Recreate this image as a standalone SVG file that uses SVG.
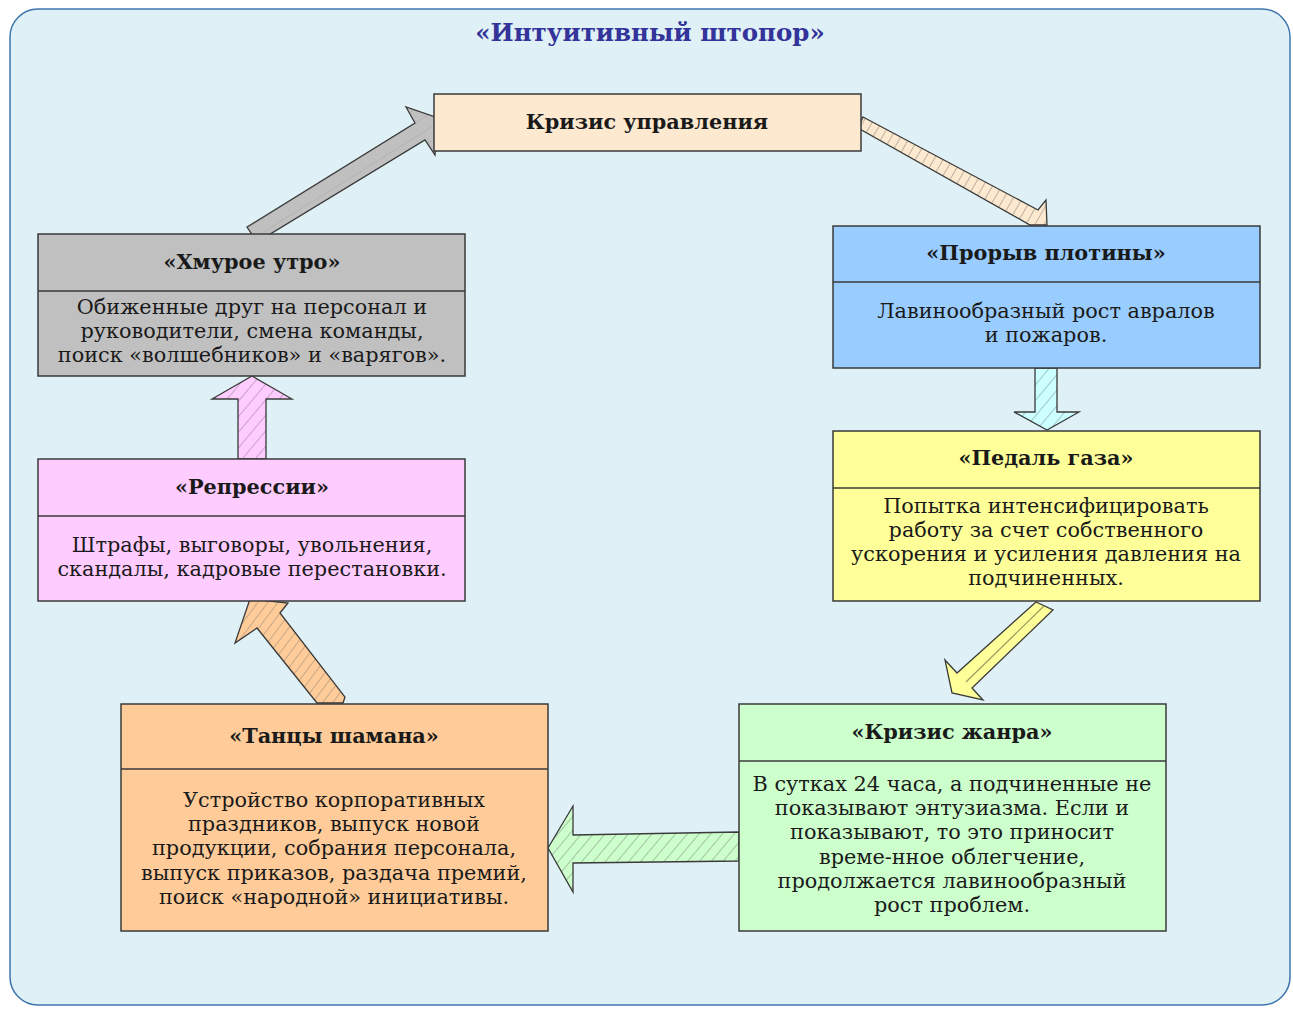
<svg xmlns="http://www.w3.org/2000/svg" width="1293" height="1011" viewBox="0 0 1293 1011">
<defs>
<style>
.box{stroke:#3a3a3a;stroke-width:1.5}
.sep{stroke:#3a3a3a;stroke-width:1.5}
.h{font-family:"DejaVu Serif","Liberation Serif",serif;font-weight:bold;font-size:20.8px;fill:#1a1a1a;text-anchor:middle}
.b{font-family:"DejaVu Serif","Liberation Serif",serif;font-size:20.8px;fill:#1a1a1a;text-anchor:middle}
.hatch{stroke:#3a3a3a;stroke-width:1.3;stroke-linejoin:miter}
</style>
<pattern id="hGreen" width="9" height="9" patternUnits="userSpaceOnUse" patternTransform="rotate(40)"><rect width="9" height="9" fill="#ccffcc"/><line x1="0" y1="0" x2="0" y2="9" stroke="#8a9a8a" stroke-width="1.2"/></pattern>
<pattern id="hCyan" width="10" height="10" patternUnits="userSpaceOnUse" patternTransform="rotate(40)"><rect width="10" height="10" fill="#ccffff"/><line x1="0" y1="0" x2="0" y2="10" stroke="#8aa0a0" stroke-width="1.2"/></pattern>
<pattern id="hPink" width="10" height="10" patternUnits="userSpaceOnUse" patternTransform="rotate(40)"><rect width="10" height="10" fill="#ffccff"/><line x1="0" y1="0" x2="0" y2="10" stroke="#a08aa0" stroke-width="1.2"/></pattern>
<pattern id="hOrange" width="8" height="8" patternUnits="userSpaceOnUse" patternTransform="rotate(37)"><rect width="8" height="8" fill="#ffcc99"/><line x1="0" y1="0" x2="0" y2="8" stroke="#a0907a" stroke-width="1.2"/></pattern>
<pattern id="hPeach" width="8" height="8" patternUnits="userSpaceOnUse" patternTransform="rotate(30)"><rect width="8" height="8" fill="#fde9cf"/><line x1="0" y1="0" x2="0" y2="8" stroke="#a09a90" stroke-width="1.4"/></pattern>
<pattern id="hGray" width="12" height="12" patternUnits="userSpaceOnUse" patternTransform="rotate(58)"><rect width="12" height="12" fill="#c0c0c0"/><line x1="0" y1="0" x2="0" y2="12" stroke="#a8a8a8" stroke-width="1"/></pattern>
</defs>

<rect x="10" y="9" width="1280" height="996" rx="28" ry="28" fill="#dff1f6" stroke="#3f74ad" stroke-width="1.5"/>
<text x="650" y="41" font-family="DejaVu Serif,Liberation Serif,serif" font-weight="bold" font-size="24.5" fill="#33339a" text-anchor="middle">«Интуитивный штопор»</text>

<g id="connectors">
<polygon class="hatch" fill="url(#hGray)" points="247,227 415,123 406,107 438,118 435,155 425,140 257,242"/>
<polygon class="hatch" fill="url(#hPeach)" points="863,117 1038,210 1046,200 1047,225 1030,225 858,128"/>
<polygon class="hatch" fill="url(#hCyan)" points="1035,368 1057,368 1057,412 1079,412 1047,430 1014,412 1035,412"/>
<polygon class="hatch" fill="#ffff99" points="1036,602 1053,610 972,688 983,700 952,693 945,660 957,673"/>
<line x1="1044" y1="606" x2="966" y2="682" stroke="#9a9a60" stroke-width="1.2"/>
<polygon class="hatch" fill="url(#hGreen)" points="739,832 573,835 573,806 548,848 573,892 573,863 739,861"/>
<polygon class="hatch" fill="url(#hOrange)" points="317,703 257,628 235,643 250,599 288,603 280,613 345,697 343,703"/>
<polygon class="hatch" fill="url(#hPink)" points="238,459 238,399 212,399 252,376 292,399 266,399 266,459"/>
</g>

<g id="n-upr">
<rect class="box" x="434" y="94" width="427" height="57" fill="#fde9cf"/>
<text class="h" x="647" y="129">Кризис управления</text>
</g>

<g id="n-proryv">
<rect class="box" x="833" y="226" width="427" height="142" fill="#99ccff"/>
<line class="sep" x1="833" y1="282" x2="1260" y2="282"/>
<text class="h" x="1046" y="260">«Прорыв плотины»</text>
<text class="b" x="1046" y="318">Лавинообразный рост авралов</text>
<text class="b" x="1046" y="342">и пожаров.</text>
</g>

<g id="n-pedal">
<rect class="box" x="833" y="431" width="427" height="170" fill="#ffff99"/>
<line class="sep" x1="833" y1="488" x2="1260" y2="488"/>
<text class="h" x="1046" y="465">«Педаль газа»</text>
<text class="b" x="1046" y="513">Попытка интенсифицировать</text>
<text class="b" x="1046" y="537">работу за счет собственного</text>
<text class="b" x="1046" y="561">ускорения и усиления давления на</text>
<text class="b" x="1046" y="585">подчиненных.</text>
</g>

<g id="n-zhanr">
<rect class="box" x="739" y="704" width="427" height="227" fill="#ccffcc"/>
<line class="sep" x1="739" y1="761" x2="1166" y2="761"/>
<text class="h" x="952" y="739">«Кризис жанра»</text>
<text class="b" x="952" y="791">В сутках 24 часа, а подчиненные не</text>
<text class="b" x="952" y="815">показывают энтузиазма. Если и</text>
<text class="b" x="952" y="839">показывают, то это приносит</text>
<text class="b" x="952" y="864">време-нное облегчение,</text>
<text class="b" x="952" y="888">продолжается лавинообразный</text>
<text class="b" x="952" y="912">рост проблем.</text>
</g>

<g id="n-tancy">
<rect class="box" x="121" y="704" width="427" height="227" fill="#ffcc99"/>
<line class="sep" x1="121" y1="769" x2="548" y2="769"/>
<text class="h" x="334" y="743">«Танцы шамана»</text>
<text class="b" x="334" y="807">Устройство корпоративных</text>
<text class="b" x="334" y="831">праздников, выпуск новой</text>
<text class="b" x="334" y="855">продукции, собрания персонала,</text>
<text class="b" x="334" y="880">выпуск приказов, раздача премий,</text>
<text class="b" x="334" y="904">поиск «народной» инициативы.</text>
</g>

<g id="n-repr">
<rect class="box" x="38" y="459" width="427" height="142" fill="#ffccff"/>
<line class="sep" x1="38" y1="516" x2="465" y2="516"/>
<text class="h" x="252" y="494">«Репрессии»</text>
<text class="b" x="252" y="552">Штрафы, выговоры, увольнения,</text>
<text class="b" x="252" y="576">скандалы, кадровые перестановки.</text>
</g>

<g id="n-hmur">
<rect class="box" x="38" y="234" width="427" height="142" fill="#c0c0c0"/>
<line class="sep" x1="38" y1="291" x2="465" y2="291"/>
<text class="h" x="252" y="269">«Хмурое утро»</text>
<text class="b" x="252" y="314">Обиженные друг на персонал и</text>
<text class="b" x="252" y="338">руководители, смена команды,</text>
<text class="b" x="252" y="362">поиск «волшебников» и «варягов».</text>
</g>
</svg>
